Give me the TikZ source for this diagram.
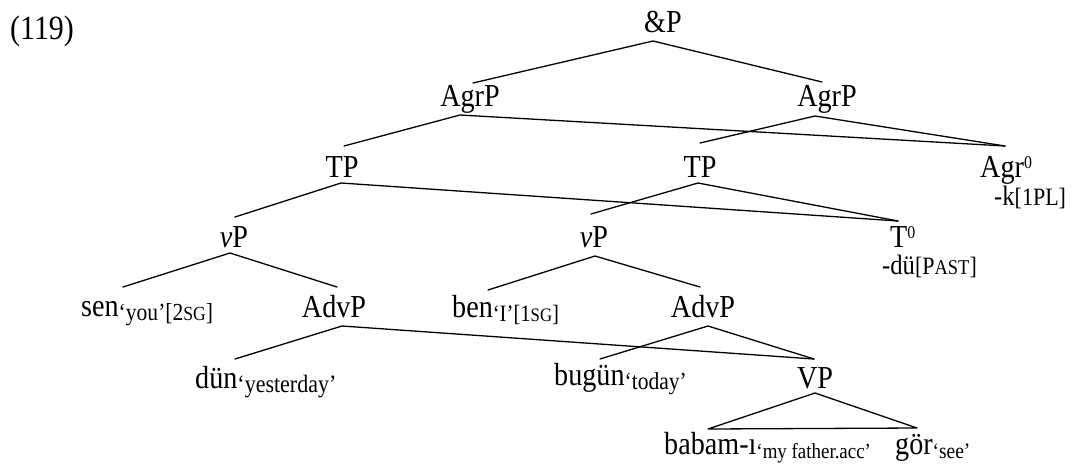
\documentclass[tikz,border=0pt]{standalone}
\usepackage{fontspec}
\setmainfont{Liberation Serif}[FakeStretch=0.88]
\newcommand{\mainsz}{\fontsize{32}{32}\selectfont}
\newcommand{\fsz}[1]{\fontsize{#1}{#1}\selectfont}
\newcommand{\gl}[2][23]{\raisebox{-4pt}{\fsz{#1}#2}}
\newcommand{\zsup}{\raisebox{9pt}{\fsz{18}0}}
\begin{document}
\begin{tikzpicture}[x=1pt,y=-1pt,
  lbl/.style={inner sep=0pt, font=\mainsz, anchor=base},
  lblw/.style={inner sep=0pt, font=\mainsz, anchor=base west},
  branch/.style={line width=1.3pt, line cap=round, line join=round}]
\useasboundingbox[fill=white] (0,0) rectangle (1079,464);

% labels
\node[lblw, font=\fsz{34}] (ex) at (10,39) {(119)};
\node[lbl] (amp) at (663,32) {\&P};
\node[lbl] (agrL) at (470,106) {AgrP};
\node[lbl] (agrR) at (827,106) {AgrP};
\node[lbl] (tpL) at (342,177) {TP};
\node[lbl] (tpR) at (700,177) {TP};
\node[lblw] (agr0) at (980,177) {Agr\zsup};
\node[lblw, font=\fsz{28}] (agrk) at (994,205) {-k{\fsz{25}[1PL]}};
\node[lbl] (vpL) at (234,247) {\textit{v}P};
\node[lbl] (vpR) at (594,247) {\textit{v}P};
\node[lblw] (t0) at (890,247) {T\zsup};
\node[lblw, font=\fsz{28}] (tdu) at (882,274) {-dü{\fsz{25}[P{\fsz{21}AST}]}};
\node[lblw] (sen) at (81,316) {sen\gl[24.5]{‘you’[2{\fsz{20}SG}]}};
\node[lbl] (advL) at (334,317) {AdvP};
\node[lblw] (ben) at (452,317) {ben\gl[23.5]{‘I’[1{\fsz{19}SG}]}};
\node[lbl] (advR) at (703,317) {AdvP};
\node[lblw] (dun) at (195,388) {dün\gl[25]{‘yesterday’}};
\node[lblw] (bugun) at (554,385) {bugün\gl[24.5]{‘today’}};
\node[lbl] (vp) at (815,388) {VP};
\node[lblw] (babam) at (664,454) {babam-ı\gl[21.5]{‘my father.acc’}};
\node[lblw] (gor) at (895,454) {gör\gl[22]{‘see’}};

% attachment points
\coordinate (amp-b) at (653,41);
\coordinate (agrL-t) at (473,83);
\coordinate (agrL-b) at (460,115);
\coordinate (agrR-t) at (822,82);
\coordinate (agrR-b) at (815,116);
\coordinate (tpL-t) at (344,146);
\coordinate (tpL-b) at (341,183);
\coordinate (tpR-t) at (700,143);
\coordinate (tpR-b) at (698,183);
\coordinate (agr0-t) at (1005,146);
\coordinate (vpL-t) at (235,217);
\coordinate (vpL-b) at (230,253);
\coordinate (vpR-t) at (591,214);
\coordinate (vpR-b) at (595,256);
\coordinate (t0-t) at (898,221);
\coordinate (sen-t) at (123,287);
\coordinate (advL-t) at (337,287);
\coordinate (advL-b) at (342,326);
\coordinate (ben-t) at (488,290);
\coordinate (advR-t) at (700,287);
\coordinate (advR-b) at (708,326);
\coordinate (dun-t) at (235,359);
\coordinate (bugun-t) at (600,359);
\coordinate (vp-t) at (814,359);
\coordinate (vp-b) at (815,393);
\coordinate (triL) at (708,429);
\coordinate (triR) at (917,428);

% branches
\draw[branch] (agrL-t) -- (amp-b) -- (agrR-t);
\draw[branch] (tpL-t) -- (agrL-b) -- (agr0-t);
\draw[branch] (tpR-t) -- (agrR-b) -- (agr0-t);
\draw[branch] (vpL-t) -- (tpL-b) -- (t0-t);
\draw[branch] (vpR-t) -- (tpR-b) -- (t0-t);
\draw[branch] (sen-t) -- (vpL-b) -- (advL-t);
\draw[branch] (ben-t) -- (vpR-b) -- (advR-t);
\draw[branch] (dun-t) -- (advL-b) -- (vp-t);
\draw[branch] (bugun-t) -- (advR-b) -- (vp-t);
\draw[branch] (vp-b) -- (triL) -- (triR) -- cycle;
\end{tikzpicture}
\end{document}
